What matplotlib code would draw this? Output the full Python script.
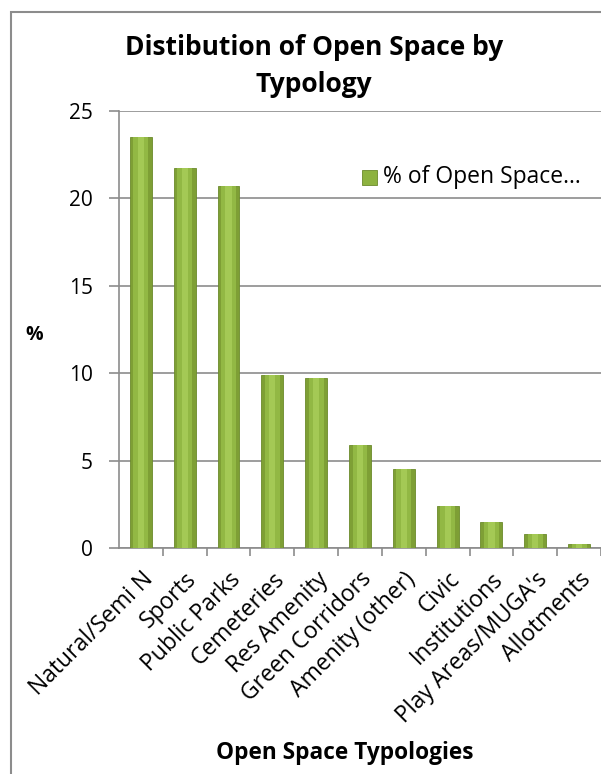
import matplotlib.pyplot as plt
import matplotlib.patches as patches
import numpy as np

# data
categories = ['Natural/Semi N', 'Sports', 'Public Parks', 'Cemeteries', 'Res Amenity',
              'Green Corridors', 'Amenity (other)', 'Civic', 'Institutions',
              "Play Areas/MUGA's", 'Allotments']
values = [23.5, 21.7, 20.7, 9.9, 9.7, 5.9, 4.5, 2.4, 1.5, 0.8, 0.2]
yticks = [0, 5, 10, 15, 20, 25]

plt.rcParams['font.family'] = ['Open Sans', 'DejaVu Sans']

fig = plt.figure(figsize=(6.01, 7.74), dpi=100)
ax = fig.add_axes([0.198, 0.292, 0.802, 0.565])

x = np.arange(len(categories))
# cylinder look: dark base, lighter core
ax.bar(x, values, width=0.5, color='#7E9F35', edgecolor='#6B8A2B', linewidth=0.6, zorder=3)
ax.bar(x, values, width=0.34, color='#92B844', linewidth=0, zorder=4)
ax.bar(x, values, width=0.14, color='#A4C955', linewidth=0, zorder=5)

ax.set_xlim(-0.5, len(categories) - 0.5)
ax.set_ylim(0, 25)
ax.set_yticks(yticks)
ax.yaxis.grid(True, color='#8C8C8C', linewidth=1.2, zorder=0)
ax.set_axisbelow(True)

ax.set_xticks(x)
ax.set_xticklabels(categories, rotation=45, ha='right', rotation_mode='anchor', fontsize=16.5)
ax.set_xticks(np.arange(len(categories)) + 0.5, minor=True)
ax.tick_params(axis='x', which='major', length=0, pad=14)
ax.tick_params(axis='x', which='minor', length=6, color='#8C8C8C', width=1.2)
ax.tick_params(axis='y', labelsize=15, length=7, color='#8C8C8C', width=1.2, pad=12)

for s in ['top', 'right']:
    ax.spines[s].set_visible(False)
ax.spines['left'].set_color('#8C8C8C')
ax.spines['left'].set_linewidth(1.2)
ax.spines['bottom'].set_color('#8C8C8C')
ax.spines['bottom'].set_linewidth(1.2)

ax.set_ylabel('%', fontsize=14, fontweight='bold', rotation=0, labelpad=0, va='center')
ax.yaxis.set_label_coords(-0.175, 0.487)

fig.text(0.522, 0.915, 'Distibution of Open Space by\nTypology', ha='center', va='center',
         fontsize=19, fontweight='bold', linespacing=1.5)
fig.text(0.574, 0.027, 'Open Space Typologies', ha='center', va='center',
         fontsize=16.3, fontweight='bold')

# legend
lx, ly = 0.602, 0.771
fig.patches.append(patches.Rectangle((lx, ly - 0.0095), 0.025, 0.019, transform=fig.transFigure,
                                     facecolor='#8DB23F', edgecolor='#6B8A2B', linewidth=0.6))
fig.text(lx + 0.035, ly, '% of Open Space…', fontsize=16.5, va='center')

# chart outer border (only left and top edges fall inside the picture)
fig.patches.append(patches.Rectangle((0.018, -0.05), 1.1, 1.035, transform=fig.transFigure,
                                     fill=False, edgecolor='#8C8C8C', linewidth=1.5))

fig.savefig('out.png', dpi=100)
